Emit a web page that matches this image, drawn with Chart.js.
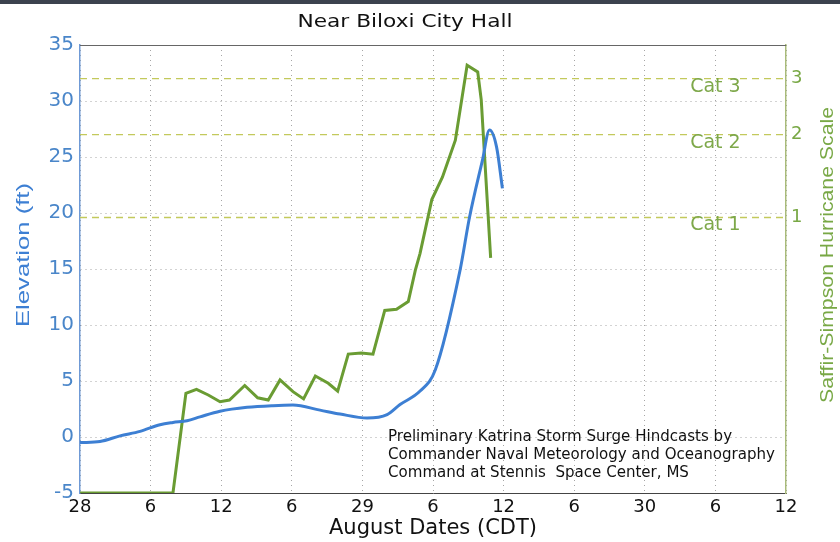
<!DOCTYPE html>
<html>
<head>
<meta charset="utf-8">
<script src="https://cdn.jsdelivr.net/npm/chart.js@4"></script>
<style>
  html, body { margin: 0; padding: 0; background: #fff; }
  #wrap { position: relative; width: 840px; height: 542px; }
  #topStrip { position: absolute; left: 0; top: 0; width: 840px; height: 4px; background: #3c424e; }
</style>
</head>
<body>
<div id="wrap">
  <canvas id="surgeChart" width="840" height="542"></canvas>
  <div id="topStrip"></div>
</div>
<script>
// Hours after Aug 28 00:00 CDT, every tick is 6 hours
const xTickLabels = ["28", "6", "12", "6", "29", "6", "12", "6", "30", "6", "12"];
const xMin = 0;
const xMax = 60;

// Storm surge (blue), elevation in ft
const surgeHours = [0, 1.7, 3.4, 5.1, 6.8, 7.9, 9.1, 10.2, 11.9, 14.2, 16.4, 18.1, 20.4, 22.1, 24.4, 26.1, 27.2, 28.9, 30.2, 32.3, 33.1, 34.2, 34.8, 35.4, 35.9];
const surgeFeet = [-0.5, -0.4, 0.1, 0.5, 1.1, 1.3, 1.45, 1.8, 2.3, 2.65, 2.8, 2.85, 2.4, 2.05, 1.7, 2.0, 2.9, 4.1, 6.0, 14.9, 19.6, 24.7, 27.4, 25.9, 22.2];

// Wind (green), drawn against the hurricane scale
const windHours = [0, 7.9, 9.0, 9.9, 10.9, 11.9, 12.7, 14.0, 15.1, 16.0, 17.0, 18.1, 19.0, 20.0, 21.1, 21.9, 22.8, 23.9, 24.9, 25.9, 26.9, 27.9, 28.5, 28.9, 29.9, 30.8, 31.9, 32.9, 33.8, 34.1, 34.9];
const windLevel = [-5, -5, 3.9, 4.25, 3.75, 3.15, 3.3, 4.6, 3.5, 3.3, 5.1, 4.05, 3.4, 5.45, 4.8, 4.1, 7.4, 7.5, 7.4, 11.3, 11.4, 12.1, 14.9, 16.4, 21.2, 23.2, 26.5, 33.2, 32.6, 30.1, 16.0];

// Saffir-Simpson categories
const catLevels = [19.6, 27, 32];
const catTicks = ["1", "2", "3"];
const catNames = ["Cat 1", "Cat 2", "Cat 3"];

const noteLines = [
  "Preliminary Katrina Storm Surge Hindcasts by",
  "Commander Naval Meteorology and Oceanography",
  "Command at Stennis  Space Center, MS",
];

const blue = "#3d7fd3";
const green = "#6a9c33";
const catColor = "#c3c95c";

Chart.defaults.font.family = "'DejaVu Sans', sans-serif";
Chart.defaults.color = "#111";

function toPoints(xs, ys) {
  return xs.map((x, i) => ({ x: x, y: ys[i] }));
}

const catDatasets = catLevels.map((level) => ({
  data: [{ x: xMin, y: level }, { x: xMax, y: level }],
  borderColor: catColor,
  borderWidth: 1.4,
  borderDash: [7, 5],
  pointRadius: 0,
  order: 3,
}));

// draws text stretched along its direction so that it fills "width"
function fitText(ctx, text, x, y, width, rotation, align) {
  const w = ctx.measureText(text).width;
  ctx.save();
  ctx.translate(x, y);
  ctx.rotate(rotation);
  ctx.scale(width / w, 1);
  ctx.textAlign = align;
  ctx.fillText(text, 0, 0);
  ctx.restore();
}

// texts that Chart.js can't place the same way as the original
const decor = {
  id: "decor",
  afterDraw(chart) {
    const { ctx, chartArea: a, scales } = chart;
    ctx.save();

    // frame top line
    ctx.strokeStyle = "#666";
    ctx.lineWidth = 1;
    ctx.beginPath();
    ctx.moveTo(a.left, a.top + 0.5);
    ctx.lineTo(a.right, a.top + 0.5);
    ctx.stroke();

    ctx.textBaseline = "middle";

    // title
    ctx.fillStyle = "#111";
    ctx.font = "18px 'DejaVu Sans'";
    fitText(ctx, "Near Biloxi City Hall", 405, 22, 215, 0, "center");

    // category labels
    ctx.fillStyle = "#7ea84a";
    ctx.font = "19px 'DejaVu Sans'";
    ctx.textAlign = "center";
    catNames.forEach((name, i) => {
      ctx.fillText(name, scales.x.getPixelForValue(54), scales.y.getPixelForValue(catLevels[i]) + 8);
    });

    // note, all lines share the stretch of the longest one
    ctx.fillStyle = "#111";
    ctx.font = "15px 'DejaVu Sans'";
    const noteScale = 387 / ctx.measureText(noteLines[1]).width;
    noteLines.forEach((line, i) => {
      fitText(ctx, line, 388, 437 + i * 18, ctx.measureText(line).width * noteScale, 0, "left");
    });

    // vertical axis titles
    ctx.font = "19px 'Liberation Sans'";
    ctx.fillStyle = blue;
    fitText(ctx, "Elevation (ft)", 24, 255, 144, -Math.PI / 2, "center");
    ctx.fillStyle = "#78a845";
    fitText(ctx, "Saffir-Simpson Hurricane Scale", 828, 255, 296, -Math.PI / 2, "center");

    ctx.restore();
  },
};

const ctx = document.getElementById("surgeChart").getContext("2d");
new Chart(ctx, {
  type: "line",
  data: {
    datasets: [
      {
        label: "Wind",
        data: toPoints(windHours, windLevel),
        borderColor: green,
        borderWidth: 3,
        pointRadius: 0,
        tension: 0,
        order: 2,
      },
      {
        label: "Surge",
        data: toPoints(surgeHours, surgeFeet),
        borderColor: blue,
        borderWidth: 3,
        pointRadius: 0,
        cubicInterpolationMode: "monotone",
        order: 1,
      },
      ...catDatasets,
    ],
  },
  options: {
    responsive: false,
    animation: false,
    layout: { padding: { top: 45, left: 0, right: 0, bottom: 0 } },
    plugins: {
      legend: { display: false },
      title: { display: false },
      tooltip: { enabled: false },
    },
    scales: {
      x: {
        type: "linear",
        min: xMin,
        max: xMax,
        afterFit: (scale) => { scale.height = 49; },
        ticks: {
          stepSize: 6,
          padding: 4,
          color: "#111",
          font: { size: 18 },
          maxRotation: 0,
          callback: (v) => xTickLabels[Math.round(v / 6)],
        },
        grid: {
          color: "rgba(0,0,0,0.35)",
          lineWidth: 1,
          drawTicks: false,
        },
        border: { color: "#444", dash: [1, 4] },
        title: {
          display: true,
          text: "August Dates (CDT)",
          color: "#111",
          font: { size: 21 },
          padding: { top: 0, bottom: 1 },
        },
      },
      y: {
        position: "left",
        min: -5,
        max: 35,
        afterFit: (scale) => { scale.width = 80; },
        ticks: {
          stepSize: 5,
          padding: 6,
          color: "#4a86c9",
          font: { size: 20 },
        },
        grid: {
          color: "rgba(0,0,0,0.35)",
          drawTicks: false,
        },
        border: { color: "#6f9ad6", width: 1.5, dash: [1, 4] },
      },
      y2: {
        position: "right",
        min: -5,
        max: 35,
        afterFit: (scale) => { scale.width = 54; },
        afterBuildTicks: (scale) => {
          scale.ticks = catLevels.map((v) => ({ value: v }));
        },
        ticks: {
          padding: 5,
          color: "#78a845",
          font: { size: 18 },
          callback: (v, i) => catTicks[i],
        },
        grid: { drawOnChartArea: false, drawTicks: false },
        border: { color: "#a9bb7a", width: 1.5 },
      },
    },
  },
  plugins: [decor],
});
</script>
</body>
</html>
